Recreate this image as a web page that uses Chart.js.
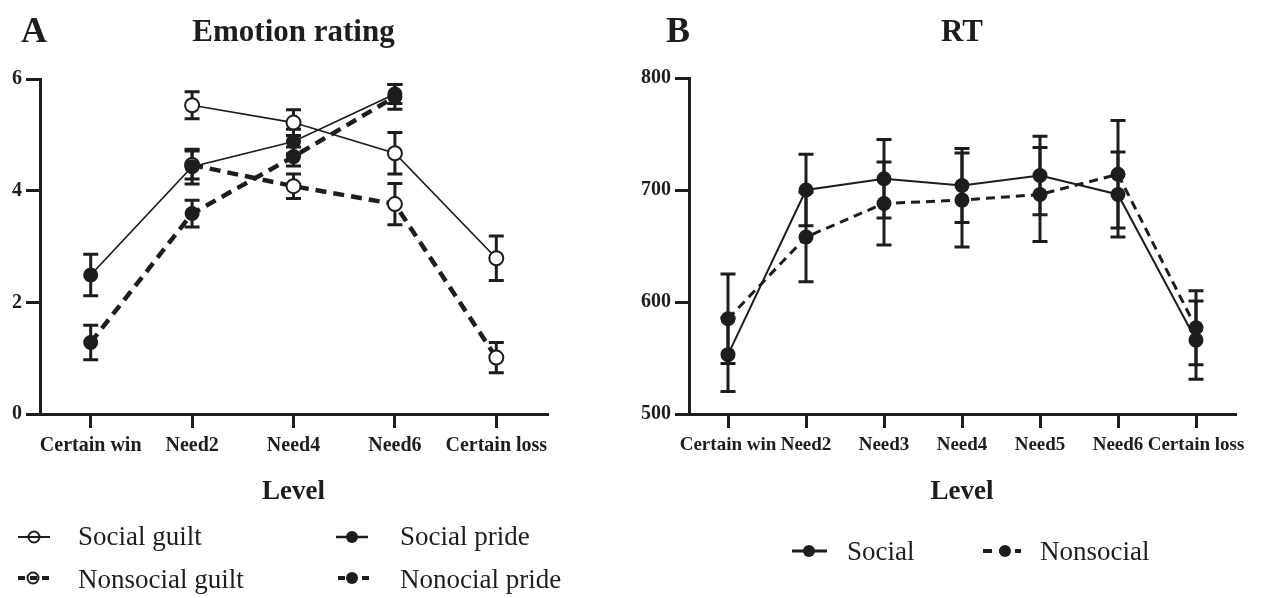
<!DOCTYPE html>
<html>
<head>
<meta charset="utf-8">
<script src="https://cdn.jsdelivr.net/npm/chart.js@4.4.1/dist/chart.umd.min.js"></script>
<style>
  html, body { margin: 0; padding: 0; background: #ffffff; }
  body { width: 1287px; height: 598px; position: relative; overflow: hidden; }
  canvas { position: absolute; top: 0; }
  #cA { left: 0; }
  #cB { left: 620px; }
</style>
</head>
<body>
<canvas id="cA" width="620" height="598"></canvas>
<canvas id="cB" width="667" height="598"></canvas>
<script>
// ---------- Data ----------
const emotionLevels = ['Certain win', 'Need2', 'Need4', 'Need6', 'Certain loss'];
const emotionTicks = [0, 2, 4, 6];
const socialGuilt = [null, 5.53, 5.22, 4.67, 2.79];
const socialGuiltErr = [null, 0.24, 0.23, 0.37, 0.40];
const nonsocialGuilt = [null, 4.46, 4.08, 3.76, 1.01];
const nonsocialGuiltErr = [null, 0.25, 0.22, 0.37, 0.27];
const socialPride = [2.49, 4.43, 4.88, 5.73, null];
const socialPrideErr = [0.37, 0.31, 0.22, 0.17, null];
const nonsocialPride = [1.28, 3.59, 4.61, 5.68, null];
const nonsocialPrideErr = [0.31, 0.24, 0.17, 0.22, null];

const rtLevels = ['Certain win', 'Need2', 'Need3', 'Need4', 'Need5', 'Need6', 'Certain loss'];
const rtTicks = [500, 600, 700, 800];
const rtSocial = [553, 700, 710, 704, 713, 696, 566];
const rtSocialErr = [33, 32, 35, 33, 35, 38, 35];
const rtNonsocial = [585, 658, 688, 691, 696, 714, 577];
const rtNonsocialErr = [40, 40, 37, 42, 42, 48, 33];

// ---------- Style ----------
const INK = '#1d1d1d';
const SERIF = '"Liberation Serif", "Times New Roman", serif';

const errorBars = {
  id: 'errorBars',
  beforeDatasetsDraw(chart) {
    const ctx = chart.ctx;
    const y = chart.scales.y;
    ctx.save();
    ctx.strokeStyle = INK;
    ctx.lineWidth = 3;
    ctx.lineCap = 'butt';
    chart.data.datasets.forEach((ds, di) => {
      const meta = chart.getDatasetMeta(di);
      if (!ds.errors) return;
      ds.data.forEach((v, i) => {
        const e = ds.errors[i];
        if (v === null || e === null || e === undefined) return;
        const x = meta.data[i].x;
        const yt = y.getPixelForValue(v + e);
        const yb = y.getPixelForValue(v - e);
        ctx.beginPath();
        ctx.moveTo(x, yt); ctx.lineTo(x, yb);
        ctx.moveTo(x - 7.5, yt); ctx.lineTo(x + 7.5, yt);
        ctx.moveTo(x - 7.5, yb); ctx.lineTo(x + 7.5, yb);
        ctx.stroke();
      });
    });
    ctx.restore();
  }
};

const panelDecor = {
  id: 'panelDecor',
  afterDraw(chart, args, opts) {
    const ctx = chart.ctx;
    const ca = chart.chartArea;
    ctx.save();
    ctx.fillStyle = INK;
    ctx.textBaseline = 'alphabetic';
    ctx.textAlign = 'left';
    ctx.font = 'bold 36px ' + SERIF;
    ctx.fillText(opts.letter, opts.letterX, 42);
    ctx.textAlign = 'center';
    ctx.font = 'bold 31px ' + SERIF;
    ctx.fillText(opts.title, (ca.left + ca.right) / 2, 41);
    // legend
    opts.legend.forEach(item => {
      const ds = chart.data.datasets[item.ds];
      ctx.save();
      ctx.strokeStyle = INK;
      ctx.lineWidth = item.lw;
      ctx.setLineDash(item.dash || []);
      ctx.beginPath();
      ctx.moveTo(item.x0, item.y);
      ctx.lineTo(item.x1, item.y);
      ctx.stroke();
      ctx.setLineDash([]);
      const cx = item.mx;
      ctx.beginPath();
      ctx.arc(cx, item.y, item.r, 0, Math.PI * 2);
      if (item.open) {
        ctx.lineWidth = 2;
        ctx.stroke();
      } else {
        ctx.fillStyle = INK;
        ctx.fill();
      }
      ctx.restore();
      ctx.fillStyle = INK;
      ctx.textAlign = 'left';
      ctx.font = '27px ' + SERIF;
      ctx.fillText(ds.label, item.tx, item.ty);
    });
    ctx.restore();
  }
};

function xScale(labels, fontSize) {
  return {
    type: 'category',
    labels: labels,
    offset: true,
    grid: { offset: false, drawOnChartArea: false, drawTicks: true, tickLength: 14, lineWidth: 3, color: INK },
    border: { display: true, width: 3, color: INK },
    ticks: { color: INK, font: { family: SERIF, weight: 'bold', size: fontSize }, padding: 6, maxRotation: 0, minRotation: 0, autoSkip: false },
    title: { display: true, text: 'Level', color: INK, font: { family: SERIF, weight: 'bold', size: 27 }, padding: { top: 0, bottom: 6 } },
    afterFit(s) { s.height = 100; }
  };
}
function yScale(min, max, tickVals, width) {
  return {
    min: min, max: max,
    afterBuildTicks(s) { s.ticks = tickVals.map(v => ({ value: v })); },
    grid: { drawOnChartArea: false, drawTicks: true, tickLength: 14, lineWidth: 3, color: INK },
    border: { display: true, width: 3, color: INK },
    ticks: { color: INK, font: { family: SERIF, weight: 'bold', size: 20 }, padding: 4 },
    afterFit(s) { s.width = width; }
  };
}

const commonOpts = {
  responsive: false,
  animation: false,
  devicePixelRatio: 1,
  plugins: { legend: { display: false }, tooltip: { enabled: false }, title: { display: false } },
};

// ---------- Panel A ----------
new Chart(document.getElementById('cA'), {
  type: 'line',
  data: {
    labels: emotionLevels,
    datasets: [
      { label: 'Social guilt', data: socialGuilt, errors: socialGuiltErr, order: 3,
        borderColor: INK, borderWidth: 1.7, pointRadius: 7, pointBorderWidth: 2,
        pointBackgroundColor: '#ffffff', pointBorderColor: INK, tension: 0 },
      { label: 'Social pride', data: socialPride, errors: socialPrideErr, order: 1,
        borderColor: INK, borderWidth: 1.7, pointRadius: 7.5, pointBorderWidth: 0,
        pointBackgroundColor: INK, pointBorderColor: INK, tension: 0 },
      { label: 'Nonsocial guilt', data: nonsocialGuilt, errors: nonsocialGuiltErr, order: 4,
        borderColor: INK, borderWidth: 4.5, borderDash: [11, 7], pointRadius: 7, pointBorderWidth: 2,
        pointBackgroundColor: '#ffffff', pointBorderColor: INK, tension: 0 },
      { label: 'Nonocial pride', data: nonsocialPride, errors: nonsocialPrideErr, order: 2,
        borderColor: INK, borderWidth: 4.5, borderDash: [11, 7], pointRadius: 7.5, pointBorderWidth: 0,
        pointBackgroundColor: INK, pointBorderColor: INK, tension: 0 }
    ]
  },
  options: Object.assign({}, commonOpts, {
    layout: { padding: { left: 0, top: 79, right: 73, bottom: 84 } },
    scales: { x: xScale(emotionLevels, 20), y: yScale(0, 6, emotionTicks, 40) },
    plugins: Object.assign({}, commonOpts.plugins, {
      panelDecor: {
        letter: 'A', letterX: 21, title: 'Emotion rating',
        legend: [
          { ds: 0, x0: 18, x1: 50, mx: 34, y: 537, r: 5.5, open: true, lw: 2, tx: 78, ty: 545 },
          { ds: 1, x0: 336, x1: 368, mx: 352, y: 537, r: 6, open: false, lw: 2.5, tx: 400, ty: 545 },
          { ds: 2, x0: 18, x1: 51, mx: 33, y: 578, r: 5.5, open: true, lw: 4, dash: [7, 5], tx: 78, ty: 588 },
          { ds: 3, x0: 338, x1: 371, mx: 352, y: 578, r: 6, open: false, lw: 4, dash: [7, 5], tx: 400, ty: 588 }
        ]
      }
    })
  }),
  plugins: [errorBars, panelDecor]
});

// ---------- Panel B ----------
new Chart(document.getElementById('cB'), {
  type: 'line',
  data: {
    labels: rtLevels,
    datasets: [
      { label: 'Social', data: rtSocial, errors: rtSocialErr, order: 1,
        borderColor: INK, borderWidth: 2, pointRadius: 7.5, pointBorderWidth: 0,
        pointBackgroundColor: INK, pointBorderColor: INK, tension: 0 },
      { label: 'Nonsocial', data: rtNonsocial, errors: rtNonsocialErr, order: 2,
        borderColor: INK, borderWidth: 3, borderDash: [9, 6], pointRadius: 7.5, pointBorderWidth: 0,
        pointBackgroundColor: INK, pointBorderColor: INK, tension: 0 }
    ]
  },
  options: Object.assign({}, commonOpts, {
    layout: { padding: { left: 0, top: 78, right: 52, bottom: 84 } },
    scales: { x: xScale(rtLevels, 19), y: yScale(500, 800, rtTicks, 69) },
    plugins: Object.assign({}, commonOpts.plugins, {
      panelDecor: {
        letter: 'B', letterX: 46, title: 'RT',
        legend: [
          { ds: 0, x0: 792 - 620, x1: 827 - 620, mx: 809 - 620, y: 551, r: 6, open: false, lw: 3, tx: 847 - 620, ty: 560 },
          { ds: 1, x0: 983 - 620, x1: 1021 - 620, mx: 1005 - 620, y: 551, r: 6, open: false, lw: 4, dash: [9, 7], tx: 1040 - 620, ty: 560 }
        ]
      }
    })
  }),
  plugins: [errorBars, panelDecor]
});
</script>
</body>
</html>
